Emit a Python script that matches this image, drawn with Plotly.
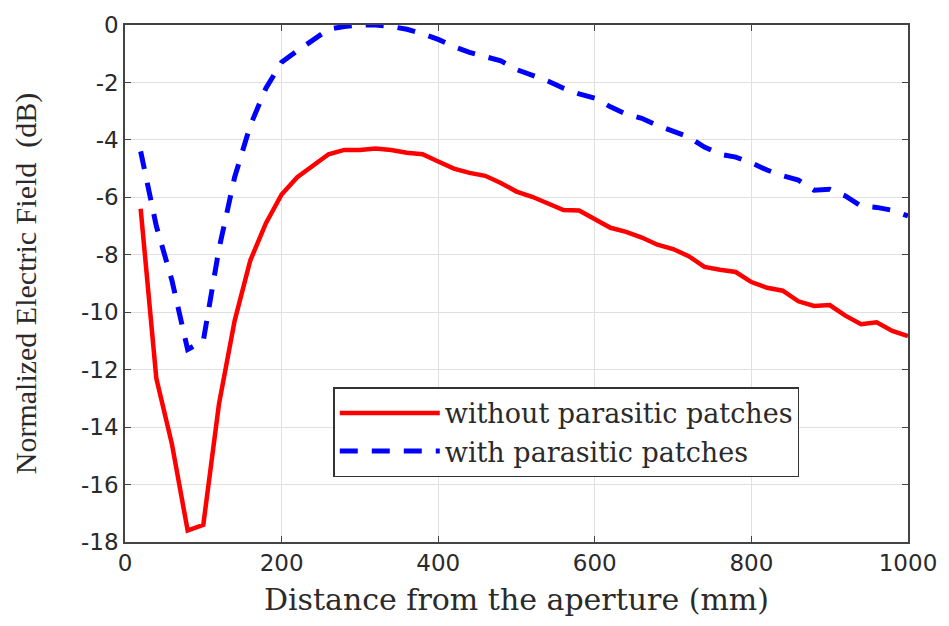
import plotly.graph_objects as go

distance_mm = list(range(20, 1001, 20))

without_patches_db = [
    -6.4, -12.3, -14.6, -17.6, -17.4, -13.2, -10.3, -8.2, -6.9, -5.9,
    -5.3, -4.9, -4.5, -4.35, -4.35, -4.3, -4.35, -4.45, -4.5, -4.75,
    -5.0, -5.15, -5.25, -5.5, -5.8, -5.98, -6.2, -6.44, -6.46, -6.75,
    -7.06, -7.2, -7.4, -7.65, -7.8, -8.05, -8.42, -8.52, -8.6, -8.95,
    -9.15, -9.25, -9.62, -9.78, -9.75, -10.12, -10.42, -10.35, -10.65, -10.83,
]

with_patches_db = [
    -4.4, -7.0, -8.9, -11.3, -11.0, -7.8, -5.3, -3.5, -2.2, -1.3,
    -0.9, -0.5, -0.15, -0.05, 0.0, 0.0, -0.05, -0.15, -0.3, -0.5,
    -0.75, -0.95, -1.1, -1.25, -1.55, -1.75, -1.95, -2.2, -2.4, -2.55,
    -2.85, -3.1, -3.25, -3.5, -3.7, -3.9, -4.25, -4.5, -4.6, -4.8,
    -5.05, -5.25, -5.4, -5.75, -5.72, -5.95, -6.3, -6.35, -6.45, -6.65,
]

x_ticks = [0, 200, 400, 600, 800, 1000]
y_ticks = [0, -2, -4, -6, -8, -10, -12, -14, -16, -18]
y_tick_labels = ["0", "-2", "-4", "-6", "-8", "-10", "-12", "-14", "-16", "-18"]

fig = go.Figure()
fig.add_trace(go.Scatter(
    x=distance_mm, y=without_patches_db, mode="lines",
    name="without parasitic patches",
    line=dict(color="#ff0000", width=4.5),
))
fig.add_trace(go.Scatter(
    x=distance_mm, y=with_patches_db, mode="lines",
    name="with parasitic patches",
    line=dict(color="#0000ff", width=5, dash="18px,14px"),
))

tick_font = dict(family="DejaVu Sans, sans-serif", size=23, color="#2a2a2a")
serif = "DejaVu Serif, serif"

axis_common = dict(
    showgrid=True, gridcolor="#e0e0e0", gridwidth=1,
    showline=True, linecolor="#444444", linewidth=1.5, mirror="ticks",
    ticks="inside", ticklen=6, tickcolor="#444444",
    zeroline=False,
    tickfont=tick_font,
)

fig.update_xaxes(
    range=[0, 1000], tickvals=x_ticks,
    title=dict(text="Distance from the aperture (mm)",
               font=dict(family=serif, size=30, color="#2a2a2a"),
               standoff=14),
    **axis_common,
)
fig.update_yaxes(
    range=[-18, 0], tickvals=y_ticks, ticktext=y_tick_labels,
    title=dict(text="Normalized Electric Field  (dB)",
               font=dict(family="Liberation Serif, serif", size=30, color="#2a2a2a"),
               standoff=36),
    **axis_common,
)

fig.update_layout(
    width=949, height=626,
    margin=dict(l=125, r=41, t=17, b=84),
    paper_bgcolor="white", plot_bgcolor="white",
    showlegend=True,
    legend=dict(
        x=0.266, y=0.299, xanchor="left", yanchor="top",
        bgcolor="white", bordercolor="#333333", borderwidth=1.5,
        font=dict(family=serif, size=27, color="#2a2a2a"),
        itemwidth=100, tracegroupgap=0,
    ),
)

fig.write_html("out.html")
